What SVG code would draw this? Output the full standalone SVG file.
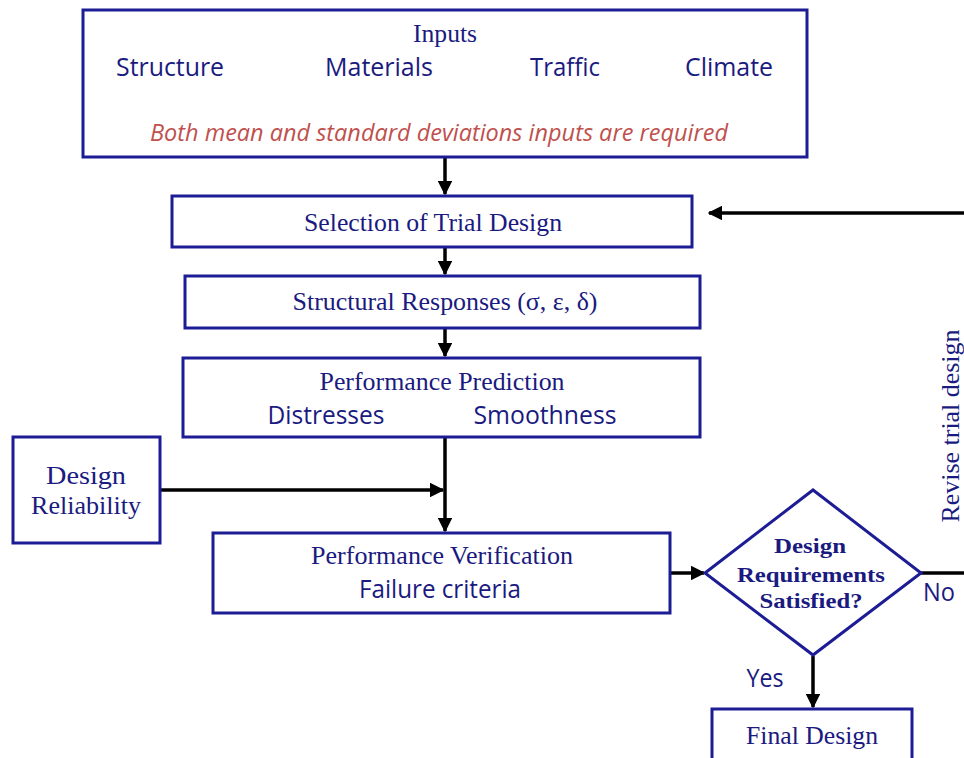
<svg xmlns="http://www.w3.org/2000/svg" width="964" height="758" viewBox="0 0 964 758">
<style>
.box{fill:#fff;stroke:#1c1c94;stroke-width:3}
.ser{font-family:"Liberation Serif",serif;fill:#1a1a80;text-anchor:middle}
.san{font-family:"Open Sans","Liberation Sans",sans-serif;fill:#1a1a80;text-anchor:middle}
.con{stroke:#000;stroke-width:3.5;fill:none}
</style>
<defs>
<marker id="ah" viewBox="0 0 10 10" refX="9" refY="5" markerWidth="4.2" markerHeight="4.2" markerUnits="strokeWidth" orient="auto">
<path d="M0,0 L10,5 L0,10 z" fill="#000"/>
</marker>
</defs>
<rect width="964" height="758" fill="#fff"/>
<g id="connectors">
<line class="con" x1="445" y1="158" x2="445" y2="194" marker-end="url(#ah)"/>
<line class="con" x1="445" y1="248" x2="445" y2="274" marker-end="url(#ah)"/>
<line class="con" x1="445" y1="329" x2="445" y2="356" marker-end="url(#ah)"/>
<line class="con" x1="445" y1="438" x2="445" y2="531" marker-end="url(#ah)"/>
<line class="con" x1="161" y1="490" x2="443" y2="490" marker-end="url(#ah)"/>
<line class="con" x1="671" y1="573" x2="704" y2="573" marker-end="url(#ah)"/>
<line class="con" x1="921" y1="573" x2="964" y2="573"/>
<line class="con" x1="964" y1="213" x2="709" y2="213" marker-end="url(#ah)"/>
<line class="con" x1="813" y1="656" x2="813" y2="707" marker-end="url(#ah)"/>
<text class="san" x="939" y="601" font-size="25" textLength="32" lengthAdjust="spacingAndGlyphs">No</text>
<text class="san" x="765" y="687" font-size="25" textLength="37" lengthAdjust="spacingAndGlyphs">Yes</text>
<text class="ser" x="0" y="0" font-size="25" textLength="193" lengthAdjust="spacingAndGlyphs" transform="translate(959,426) rotate(-90)">Revise trial design</text>
</g>
<g id="inputs">
<rect class="box" x="83" y="10" width="724" height="147"/>
<text class="ser" x="445" y="42" font-size="25" textLength="64" lengthAdjust="spacingAndGlyphs">Inputs</text>
<text class="san" x="170" y="76" font-size="26" textLength="108" lengthAdjust="spacingAndGlyphs">Structure</text>
<text class="san" x="379" y="76" font-size="26" textLength="108" lengthAdjust="spacingAndGlyphs">Materials</text>
<text class="san" x="565" y="76" font-size="26" textLength="70" lengthAdjust="spacingAndGlyphs">Traffic</text>
<text class="san" x="729" y="76" font-size="26" textLength="88" lengthAdjust="spacingAndGlyphs">Climate</text>
<text class="san" x="439" y="141" font-size="23" font-style="italic" textLength="578" lengthAdjust="spacingAndGlyphs" style="fill:#c0504d">Both mean and standard deviations inputs are required</text>
</g>
<g id="selection">
<rect class="box" x="172" y="196" width="520" height="51"/>
<text class="ser" x="433" y="231" font-size="26" textLength="258" lengthAdjust="spacingAndGlyphs">Selection of Trial Design</text>
</g>
<g id="responses">
<rect class="box" x="185" y="276" width="515" height="52"/>
<text class="ser" x="445" y="310" font-size="25" textLength="305" lengthAdjust="spacingAndGlyphs">Structural Responses (σ, ε, δ)</text>
</g>
<g id="prediction">
<rect class="box" x="183" y="358" width="517" height="79"/>
<text class="ser" x="442" y="390" font-size="26" textLength="245" lengthAdjust="spacingAndGlyphs">Performance Prediction</text>
<text class="san" x="326" y="424" font-size="26" textLength="117" lengthAdjust="spacingAndGlyphs">Distresses</text>
<text class="san" x="545" y="424" font-size="26" textLength="143" lengthAdjust="spacingAndGlyphs">Smoothness</text>
</g>
<g id="reliability">
<rect class="box" x="13" y="437" width="147" height="106"/>
<text class="ser" x="86" y="484" font-size="26" textLength="80" lengthAdjust="spacingAndGlyphs">Design</text>
<text class="ser" x="86" y="514" font-size="26" textLength="110" lengthAdjust="spacingAndGlyphs">Reliability</text>
</g>
<g id="verification">
<rect class="box" x="213" y="533" width="457" height="80"/>
<text class="ser" x="442" y="564" font-size="26" textLength="262" lengthAdjust="spacingAndGlyphs">Performance Verification</text>
<text class="san" x="440" y="598" font-size="26" textLength="162" lengthAdjust="spacingAndGlyphs">Failure criteria</text>
</g>
<g id="decision">
<polygon points="705,573 813,490 921,573 813,655" fill="#fff" stroke="#1c1c94" stroke-width="3"/>
<text class="ser" x="810" y="553" font-size="22" font-weight="bold" textLength="72" lengthAdjust="spacingAndGlyphs">Design</text>
<text class="ser" x="811" y="582" font-size="22" font-weight="bold" textLength="148" lengthAdjust="spacingAndGlyphs">Requirements</text>
<text class="ser" x="811" y="608" font-size="22" font-weight="bold" textLength="103" lengthAdjust="spacingAndGlyphs">Satisfied?</text>
</g>
<g id="final">
<rect class="box" x="712" y="709" width="200" height="60"/>
<text class="ser" x="812" y="744" font-size="25" textLength="132" lengthAdjust="spacingAndGlyphs">Final Design</text>
</g>
</svg>
